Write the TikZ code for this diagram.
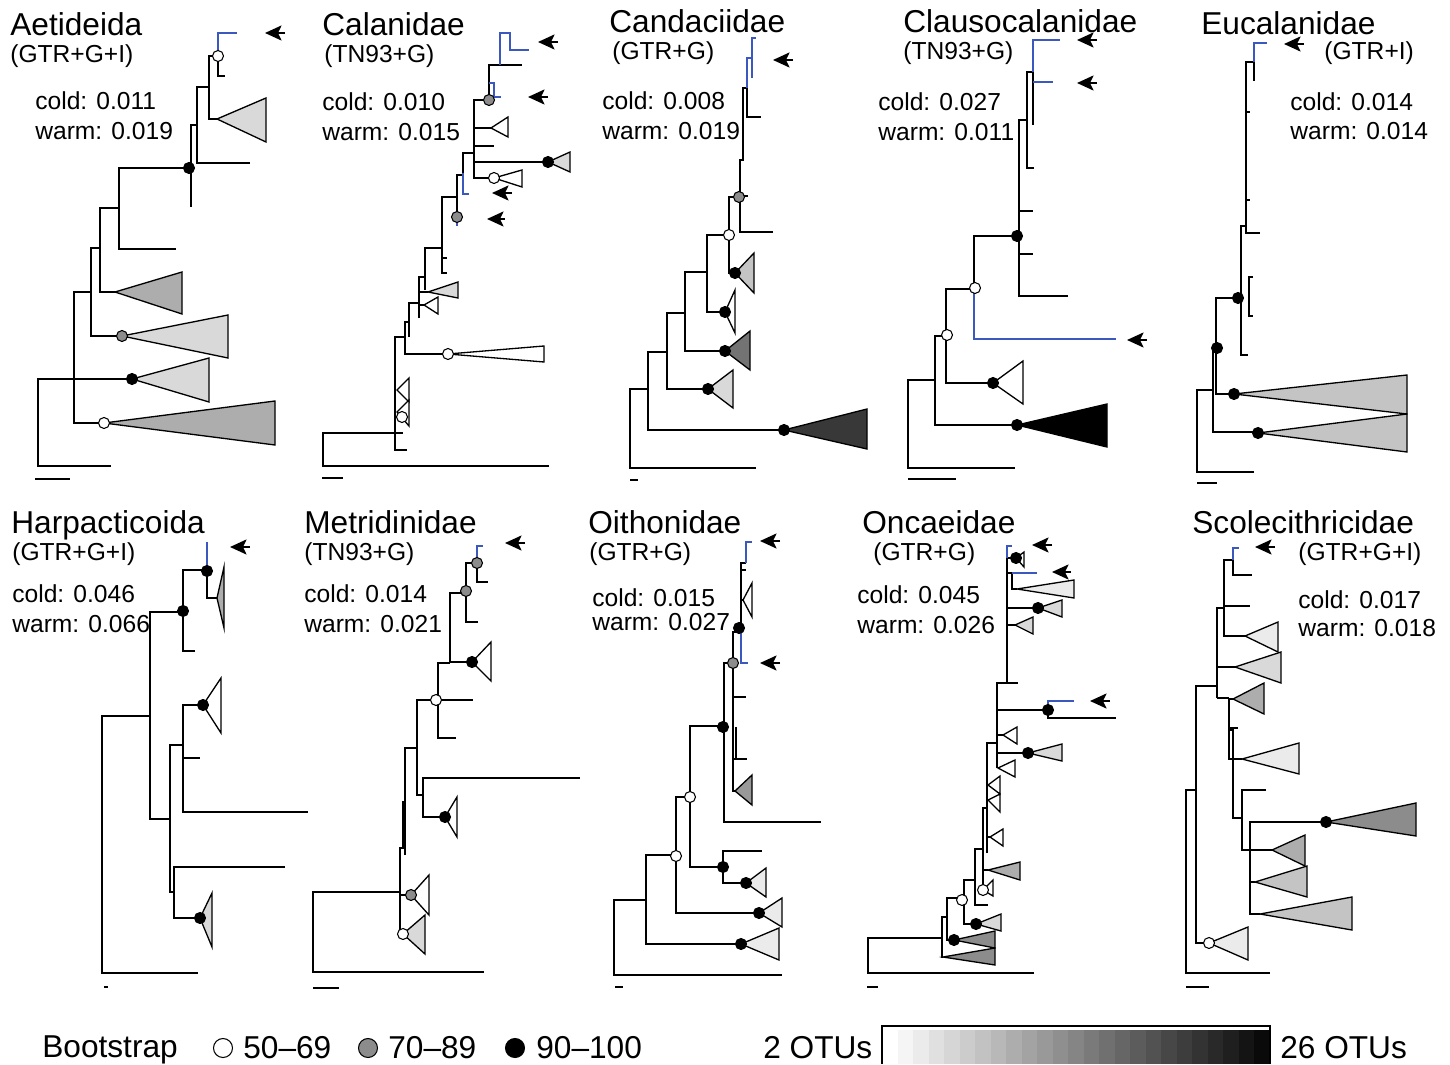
\documentclass[tikz,border=0pt]{standalone}
\usepackage{fontspec}
\setmainfont{Liberation Sans}
\usetikzlibrary{arrows.meta}
\definecolor{hitblue}{RGB}{58,88,190}
\colorlet{g1}{black!8}
\colorlet{g2}{black!15}
\colorlet{g3}{black!23}
\colorlet{g4}{black!32}
\colorlet{g5}{black!45}
\colorlet{g6}{black!78}

\begin{document}
\begin{tikzpicture}[x=0.2mm,y=-0.2mm,
  br/.style={line width=0.75pt},
  hit/.style={line width=0.75pt,hitblue},
  clade/.style={draw,line width=0.75pt,line join=miter},
  bsl/.style={draw,line width=0.6pt,fill=white,radius=1.1mm},
  bsm/.style={draw,line width=0.6pt,fill=black!45,radius=1.1mm},
  bsh/.style={draw,line width=0.6pt,fill=black,radius=1.1mm},
  ptr/.style={-{Stealth[length=3.3mm,width=3mm,inset=0.7mm]},line width=1.1pt},
  ttl/.style={anchor=base west,inner sep=0pt,font=\fontsize{18}{20}\selectfont},
  sub/.style={anchor=base west,inner sep=0pt,font=\fontsize{14}{16}\selectfont},
  leg/.style={anchor=base west,inner sep=0pt,font=\fontsize{18}{20}\selectfont}]
\useasboundingbox (0,0) rectangle (1450,1064);

% Aetideida
\node[ttl] (t1) at (10,36) {Aetideida};
\node[sub] (m1) at (10,63) {(GTR+G+I)};
\node[sub] (c1) at (35,110) {cold: 0.011};
\node[sub] (w1) at (35,140) {warm: 0.019};
\draw[br] (111,466) -| (38,379) -- (132,379);
\draw[br] (104,423) -| (74,292) -- (91,292);
\draw[br] (122,336) -| (91,248) -- (100,248);
\draw[br] (115,292) -| (100,208) -- (119,208);
\draw[br] (176,249) -| (119,168) -- (189,168);
\draw[br] (191,207) -- (191,125) -- (197,125);
\draw[br] (250,163) -| (197,87) -- (209,87);
\draw[br] (217,119) -| (209,56) -- (218,56);
\draw[br] (218,56) |- (225,76);
\draw[hit] (218,56) |- (237,33);
\draw[clade,fill=g2] (217,119) -- (266,98) -- (266,142) -- cycle;
\draw[clade,fill=g4] (115,292) -- (182,272) -- (182,314) -- cycle;
\draw[clade,fill=g2] (122,336) -- (228,315) -- (228,358) -- cycle;
\draw[clade,fill=g2] (132,379) -- (209,358) -- (209,402) -- cycle;
\draw[clade,fill=g4] (104,423) -- (275,401) -- (275,445) -- cycle;
\draw[bsl] (218,56) circle;
\draw[bsh] (189,168) circle;
\draw[bsm] (122,336) circle;
\draw[bsh] (132,379) circle;
\draw[bsl] (104,423) circle;
\draw[ptr] (285,33) -- (265,33);
\draw[br] (35,479) -- (70,479);

% Calanidae
\node[ttl] (t2) at (322,36) {Calanidae};
\node[sub] (m2) at (324,63) {(TN93+G)};
\node[sub] (c2) at (322,111) {cold: 0.010};
\node[sub] (w2) at (322,141) {warm: 0.015};
\draw[br] (549,466) -| (323,433) -- (395,433);
\draw[br] (407,450) -| (395,337) -- (405,337);
\draw[br] (395,433) -- (403,433);
\draw[br] (448,354) -| (405,322) -- (409,322);
\draw[br] (409,337) -- (409,303) -- (419,303);
\draw[br] (419,318) -- (419,277) -- (425,277);
\draw[br] (419,292) -- (428,292);
\draw[br] (419,305) -- (424,305);
\draw[br] (425,290) -- (425,248) -- (442,248);
\draw[br] (447,273) -| (442,197) -- (457,197);
\draw[br] (442,258) -- (447,258);
\draw[br] (457,213) -- (457,175) -- (463,175);
\draw[br] (463,173) -- (463,153) -- (474,153);
\draw[hit] (463,173) |- (469,194);
\draw[hit] (457,213) -- (457,226);
\draw[br] (494,178) -| (474,100) -- (489,100);
\draw[br] (474,128) -- (491,128);
\draw[br] (474,146) -- (494,146);
\draw[br] (474,162) -- (548,162);
\draw[br] (489,100) -- (489,65) -- (522,65);
\draw[hit] (489,83) -| (494,97) -- (501,97);
\draw[hit] (500,65) -- (500,33) -- (510,33) |- (529,50);
\draw[clade,fill=white] (397,390) -- (409,378) -- (409,402) -- cycle;
\draw[clade,fill=white] (397,412) -- (409,400) -- (409,426) -- cycle;
\draw[clade,fill=white] (448,354) -- (544,346) -- (544,362) -- cycle;
\draw[clade,fill=g2] (428,292) -- (458,282) -- (458,298) -- cycle;
\draw[clade,fill=white] (424,305) -- (438,297) -- (438,314) -- cycle;
\draw[clade,fill=white] (494,178) -- (522,170) -- (522,187) -- cycle;
\draw[clade,fill=g2] (548,162) -- (570,152) -- (570,172) -- cycle;
\draw[clade,fill=white] (491,128) -- (508,117) -- (508,137) -- cycle;
\draw[bsm] (489,100) circle;
\draw[bsh] (548,162) circle;
\draw[bsl] (494,178) circle;
\draw[bsm] (457,217) circle;
\draw[bsl] (448,354) circle;
\draw[bsl] (402,417) circle;
\draw[ptr] (558,42) -- (538,42);
\draw[ptr] (548,97) -- (528,97);
\draw[ptr] (512,193) -- (492,193);
\draw[ptr] (505,219) -- (487,219);
\draw[br] (322,478) -- (343,478);

% Candaciidae
\node[ttl] (t3) at (609,33) {Candaciidae};
\node[sub] (m3) at (612,60) {(GTR+G)};
\node[sub] (c3) at (602,110) {cold: 0.008};
\node[sub] (w3) at (602,140) {warm: 0.019};
\draw[br] (756,468) -| (630,389) -- (648,389);
\draw[br] (784,430) -| (648,352) -- (667,352);
\draw[br] (708,389) -| (667,313) -- (685,313);
\draw[br] (725,351) -| (685,272) -- (707,272);
\draw[br] (725,312) -| (707,235) -- (729,235);
\draw[br] (735,273) -| (729,197) -- (740,197);
\draw[br] (773,232) -| (740,160) -- (743,160) -- (743,88) -- (747,88);
\draw[br] (740,196) -- (748,196);
\draw[br] (761,117) -| (747,88);
\draw[hit] (747,88) -- (747,58) -- (752,58);
\draw[hit] (752,78) -- (752,38) -- (756,38);
\draw[clade,fill=g3] (735,273) -- (754,253) -- (754,293) -- cycle;
\draw[clade,fill=white] (725,312) -- (735,290) -- (735,333) -- cycle;
\draw[clade,fill=black!55] (725,351) -- (750,331) -- (750,370) -- cycle;
\draw[clade,fill=g2] (708,389) -- (733,370) -- (733,408) -- cycle;
\draw[clade,fill=g6] (784,430) -- (867,409) -- (867,449) -- cycle;
\draw[bsm] (739,197) circle;
\draw[bsl] (729,235) circle;
\draw[bsh] (735,273) circle;
\draw[bsh] (725,312) circle;
\draw[bsh] (725,351) circle;
\draw[bsh] (708,389) circle;
\draw[bsh] (784,430) circle;
\draw[ptr] (793,60) -- (773,60);
\draw[br] (630,480) -- (638,480);

% Clausocalanidae
\node[ttl] (t4) at (903,33) {Clausocalanidae};
\node[sub] (m4) at (903,60) {(TN93+G)};
\node[sub] (c4) at (878,111) {cold: 0.027};
\node[sub] (w4) at (878,141) {warm: 0.011};
\draw[br] (1015,468) -| (908,380) -- (935,380);
\draw[br] (1017,425) -| (935,336) -- (946,336);
\draw[br] (993,383) -| (946,289) -- (974,289);
\draw[hit] (974,289) |- (1116,339);
\draw[br] (974,289) -- (974,236) -- (1017,236);
\draw[br] (1068,296) -| (1019,120) -- (1027,120);
\draw[br] (1019,211) -- (1033,211);
\draw[br] (1019,254) -- (1033,254);
\draw[br] (1034,168) -| (1027,72) -- (1033,72);
\draw[br] (1033,72) -- (1033,125);
\draw[hit] (1033,72) |- (1060,40);
\draw[hit] (1033,82) -- (1053,82);
\draw[clade,fill=white] (993,383) -- (1023,361) -- (1023,404) -- cycle;
\draw[clade,fill=black] (1017,425) -- (1107,404) -- (1107,447) -- cycle;
\draw[bsl] (947,335) circle;
\draw[bsl] (975,288) circle;
\draw[bsh] (1017,236) circle;
\draw[bsh] (993,383) circle;
\draw[bsh] (1017,425) circle;
\draw[ptr] (1097,40) -- (1077,40);
\draw[ptr] (1097,83) -- (1077,83);
\draw[ptr] (1147,340) -- (1127,340);
\draw[br] (908,479) -- (956,479);

% Eucalanidae
\node[ttl] (t5) at (1201,35) {Eucalanidae};
\node[sub] (m5) at (1324,60) {(GTR+I)};
\node[sub] (c5) at (1290,111) {cold: 0.014};
\node[sub] (w5) at (1290,140) {warm: 0.014};
\draw[br] (1254,472) -| (1197,390) -- (1213,390);
\draw[br] (1258,432) -| (1213,348) -- (1216,348);
\draw[br] (1234,394) -| (1216,298) -- (1242,298);
\draw[br] (1248,355) -| (1241,226) -- (1246,226);
\draw[br] (1260,233) -| (1246,62) -- (1254,62);
\draw[br] (1246,200) -- (1250,200);
\draw[br] (1246,112) -- (1250,112);
\draw[br] (1253,277) -| (1249,316) -- (1253,316);
\draw[br] (1254,62) -- (1254,81);
\draw[hit] (1254,62) |- (1267,43);
\draw[clade,fill=g3] (1258,433) -- (1407,414) -- (1407,452) -- cycle;
\draw[clade,fill=g3] (1234,394) -- (1407,375) -- (1407,414) -- cycle;
\draw[bsh] (1258,433) circle;
\draw[bsh] (1234,394) circle;
\draw[bsh] (1217,348) circle;
\draw[bsh] (1238,298) circle;
\draw[ptr] (1304,44) -- (1284,44);
\draw[br] (1197,483) -- (1217,483);

% Harpacticoida
\node[ttl] (t6) at (11,533) {Harpacticoida};
\node[sub] (m6) at (12,560) {(GTR+G+I)};
\node[sub] (c6) at (12,602) {cold: 0.046};
\node[sub] (w6) at (12,632) {warm: 0.066};
\draw[br] (198,973) -| (102,716) -- (150,716);
\draw[br] (170,819) -| (150,612) -- (183,612);
\draw[br] (183,745) -| (170,892) -- (174,892);
\draw[br] (285,867) -| (174,918) -- (200,918);
\draw[br] (203,705) -| (183,812) -- (308,812);
\draw[br] (183,758) -- (200,758);
\draw[br] (195,651) -| (183,570) -- (207,570);
\draw[br] (217,598) -| (207,570);
\draw[hit] (207,570) -- (207,542);
\draw[clade,fill=g4] (217,598) -- (224,567) -- (224,628) -- cycle;
\draw[clade,fill=white] (203,705) -- (221,678) -- (221,733) -- cycle;
\draw[clade,fill=g2] (200,918) -- (212,893) -- (212,947) -- cycle;
\draw[bsh] (183,611) circle;
\draw[bsh] (207,571) circle;
\draw[bsh] (203,705) circle;
\draw[bsh] (200,918) circle;
\draw[ptr] (250,547) -- (230,547);
\draw[br] (104,987) -- (108,987);

% Metridinidae
\node[ttl] (t7) at (304,533) {Metridinidae};
\node[sub] (m7) at (304,560) {(TN93+G)};
\node[sub] (c7) at (304,602) {cold: 0.014};
\node[sub] (w7) at (304,632) {warm: 0.021};
\draw[br] (484,972) -| (313,892) -- (400,892);
\draw[br] (403,934) -| (400,848) -- (403,848) -- (403,802) -- (405,802);
\draw[br] (400,895) -- (411,895);
\draw[br] (405,855) -- (405,748) -- (417,748);
\draw[br] (423,795) -| (417,700) -- (436,700);
\draw[br] (580,778) -| (423,817) -- (445,817);
\draw[br] (456,738) -| (438,663) -- (450,663);
\draw[br] (438,700) -- (473,700);
\draw[br] (472,662) -| (450,593) -- (466,593);
\draw[br] (478,622) -| (466,563) -- (477,563);
\draw[br] (477,563) |- (488,582);
\draw[hit] (477,563) |- (483,546);
\draw[clade,fill=white] (472,662) -- (491,642) -- (491,681) -- cycle;
\draw[clade,fill=white] (445,817) -- (457,797) -- (457,837) -- cycle;
\draw[clade,fill=white] (411,895) -- (429,875) -- (429,915) -- cycle;
\draw[clade,fill=g2] (403,934) -- (425,915) -- (425,954) -- cycle;
\draw[bsm] (477,563) circle;
\draw[bsm] (466,591) circle;
\draw[bsh] (472,662) circle;
\draw[bsl] (436,700) circle;
\draw[bsh] (445,817) circle;
\draw[bsm] (411,895) circle;
\draw[bsl] (403,934) circle;
\draw[ptr] (525,543) -- (505,543);
\draw[br] (313,988) -- (339,988);

% Oithonidae
\node[ttl] (t8) at (588,533) {Oithonidae};
\node[sub] (m8) at (589,560) {(GTR+G)};
\node[sub] (c8) at (592,606) {cold: 0.015};
\node[sub] (w8) at (592,630) {warm: 0.027};
\draw[br] (782,975) -| (614,900) -- (646,900);
\draw[br] (741,944) -| (646,855) -- (676,855);
\draw[br] (759,913) -| (676,797) -- (690,797);
\draw[br] (723,867) -| (690,726) -- (723,726);
\draw[br] (745,883) -| (723,851) -- (762,851);
\draw[br] (821,822) -| (724,663) -- (733,663);
\draw[br] (735,791) -| (733,632) -- (741,632);
\draw[br] (733,697) -- (746,697);
\draw[br] (733,759) -- (747,759);
\draw[br] (736,727) -- (736,759);
\draw[hit] (741,632) |- (748,663);
\draw[br] (741,632) -- (741,563) -- (746,563);
\draw[br] (741,570) -- (746,570);
\draw[br] (741,600) -- (743,600);
\draw[hit] (746,563) -- (746,542) -- (752,542);
\draw[clade,fill=white] (743,600) -- (752,583) -- (752,617) -- cycle;
\draw[clade,fill=black!40] (735,791) -- (752,775) -- (752,805) -- cycle;
\draw[clade,fill=g1] (746,883) -- (766,868) -- (766,897) -- cycle;
\draw[clade,fill=g1] (759,913) -- (782,898) -- (782,927) -- cycle;
\draw[clade,fill=g1] (741,944) -- (779,928) -- (779,960) -- cycle;
\draw[bsh] (739,628) circle;
\draw[bsm] (733,663) circle;
\draw[bsh] (723,727) circle;
\draw[bsl] (690,797) circle;
\draw[bsl] (676,856) circle;
\draw[bsh] (723,867) circle;
\draw[bsh] (746,883) circle;
\draw[bsh] (759,913) circle;
\draw[bsh] (741,944) circle;
\draw[ptr] (780,541) -- (760,541);
\draw[ptr] (780,663) -- (760,663);
\draw[br] (615,987) -- (623,987);

% Oncaeidae
\node[ttl] (t9) at (862,533) {Oncaeidae};
\node[sub] (m9) at (873,560) {(GTR+G)};
\node[sub] (c9) at (857,603) {cold: 0.045};
\node[sub] (w9) at (857,633) {warm: 0.026};
\draw[br] (1034,973) -| (868,938) -- (942,938);
\draw[br] (943,957) -| (942,917) -- (947,917);
\draw[br] (954,940) -| (947,898) -- (962,898);
\draw[br] (976,924) -| (964,880) -- (975,880);
\draw[br] (988,905) -| (975,849) -- (983,849);
\draw[br] (983,890) -- (983,808) -- (987,808);
\draw[br] (983,870) -- (988,870);
\draw[br] (987,853) -- (987,743) -- (997,743);
\draw[br] (987,785) -- (988,785);
\draw[br] (987,837) -- (990,837);
\draw[br] (997,768) -- (997,683) -- (1018,683);
\draw[br] (997,753) -- (1028,753);
\draw[br] (997,735) -- (1003,735);
\draw[br] (997,710) -- (1048,710);
\draw[br] (1048,710) |- (1116,718);
\draw[hit] (1048,710) |- (1074,701);
\draw[br] (1007,683) -- (1007,558) -- (1016,558);
\draw[br] (1007,625) -- (1015,625);
\draw[br] (1007,608) -- (1038,608);
\draw[br] (1007,573) -- (1012,573) -- (1012,589) -- (1017,589);
\draw[hit] (1012,573) -- (1037,573);
\draw[hit] (1007,558) -- (1007,546) -- (1012,546);
\draw[clade,fill=white] (1016,558) -- (1024,552) -- (1024,567) -- cycle;
\draw[clade,fill=g1] (1017,589) -- (1074,580) -- (1074,598) -- cycle;
\draw[clade,fill=g2] (1038,608) -- (1062,600) -- (1062,617) -- cycle;
\draw[clade,fill=g2] (1015,625) -- (1033,617) -- (1033,634) -- cycle;
\draw[clade,fill=white] (1003,735) -- (1017,727) -- (1017,744) -- cycle;
\draw[clade,fill=g2] (1028,753) -- (1062,744) -- (1062,761) -- cycle;
\draw[clade,fill=white] (998,768) -- (1015,760) -- (1015,777) -- cycle;
\draw[clade,fill=white] (988,785) -- (1000,776) -- (1000,794) -- cycle;
\draw[clade,fill=white] (988,800) -- (1000,794) -- (1000,812) -- cycle;
\draw[clade,fill=white] (990,837) -- (1003,829) -- (1003,846) -- cycle;
\draw[clade,fill=g4] (988,870) -- (1020,862) -- (1020,880) -- cycle;
\draw[clade,fill=white] (983,890) -- (993,880) -- (993,896) -- cycle;
\draw[clade,fill=g2] (976,924) -- (1001,914) -- (1001,931) -- cycle;
\draw[clade,fill=g5] (954,940) -- (995,931) -- (995,948) -- cycle;
\draw[clade,fill=g5] (943,957) -- (995,948) -- (995,965) -- cycle;
\draw[bsh] (1016,558) circle;
\draw[bsh] (1038,608) circle;
\draw[bsh] (1048,710) circle;
\draw[bsh] (1028,753) circle;
\draw[bsl] (983,890) circle;
\draw[bsl] (962,900) circle;
\draw[bsh] (976,924) circle;
\draw[bsh] (954,940) circle;
\draw[ptr] (1052,545) -- (1032,545);
\draw[ptr] (1071,572) -- (1052,572);
\draw[ptr] (1110,701) -- (1090,701);
\draw[br] (867,987) -- (878,987);

% Scolecithricidae
\node[ttl] (t10) at (1192,533) {Scolecithricidae};
\node[sub] (m10) at (1298,560) {(GTR+G+I)};
\node[sub] (c10) at (1298,608) {cold: 0.017};
\node[sub] (w10) at (1298,636) {warm: 0.018};
\draw[br] (1270,973) -| (1186,790) -- (1196,790);
\draw[br] (1208,943) -| (1196,686) -- (1217,686);
\draw[br] (1217,698) -- (1217,608) -- (1224,608);
\draw[br] (1245,636) -| (1224,560) -- (1233,560);
\draw[br] (1224,606) -- (1250,606);
\draw[hit] (1233,560) |- (1239,548);
\draw[br] (1233,560) |- (1252,575);
\draw[br] (1217,667) -- (1235,667);
\draw[br] (1217,698) -- (1229,698);
\draw[br] (1242,759) -| (1229,699) -- (1233,699);
\draw[br] (1229,728) -- (1238,728);
\draw[br] (1229,730) -- (1233,730) -- (1233,818) -- (1242,818);
\draw[br] (1266,790) -| (1242,850) -- (1250,850);
\draw[br] (1326,822) -| (1250,914) -- (1260,914);
\draw[br] (1250,850) -- (1272,850);
\draw[br] (1250,882) -- (1255,882);
\draw[clade,fill=g1] (1245,636) -- (1278,622) -- (1278,652) -- cycle;
\draw[clade,fill=g2] (1235,667) -- (1281,652) -- (1281,683) -- cycle;
\draw[clade,fill=g4] (1233,699) -- (1264,683) -- (1264,714) -- cycle;
\draw[clade,fill=g1] (1242,759) -- (1299,743) -- (1299,774) -- cycle;
\draw[clade,fill=g5] (1326,822) -- (1416,803) -- (1416,836) -- cycle;
\draw[clade,fill=g4] (1272,850) -- (1305,835) -- (1305,866) -- cycle;
\draw[clade,fill=g3] (1255,882) -- (1307,866) -- (1307,897) -- cycle;
\draw[clade,fill=g3] (1260,914) -- (1352,897) -- (1352,930) -- cycle;
\draw[clade,fill=g1] (1209,943) -- (1248,927) -- (1248,960) -- cycle;
\draw[bsh] (1326,822) circle;
\draw[bsl] (1209,943) circle;
\draw[ptr] (1275,547) -- (1255,547);
\draw[br] (1186,987) -- (1209,987);

% legend
\node[leg] (bs) at (42,1057) {Bootstrap};
\draw[bsl,radius=1.9mm] (223,1048) circle;
\node[leg] (lo) at (243,1058) {50--69};
\draw[bsm,radius=1.9mm] (368,1048) circle;
\node[leg] (mi) at (388,1058) {70--89};
\draw[bsh,radius=1.9mm] (515,1048) circle;
\node[leg] (hi) at (536,1058) {90--100};
\node[leg] (n2) at (763,1058) {2 OTUs};
\node[leg] (n26) at (1280,1058) {26 OTUs};
\foreach \i [evaluate=\i as \p using 4*\i, evaluate=\i as \xa using 882+15.5*\i] in {1,...,24}
  \fill[black!\p] (\xa,1030) rectangle ++(15.5,34);
\draw[line width=0.9pt] (882,1064) |- (1270,1026) -- (1270,1064);
\end{tikzpicture}
\end{document}
